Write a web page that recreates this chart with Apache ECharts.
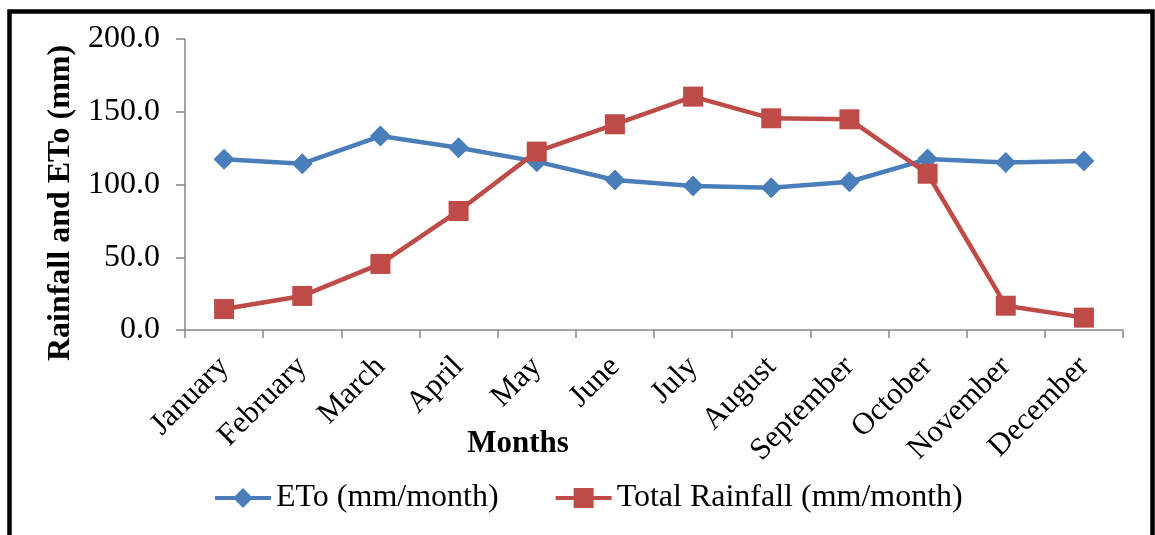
<!DOCTYPE html>
<html>
<head>
<meta charset="utf-8">
<script src="https://cdn.jsdelivr.net/npm/echarts@6/dist/echarts.min.js"></script>
<style>
  html, body { margin: 0; padding: 0; background: #fff; }
  #chart { width: 1155px; height: 535px; }
</style>
</head>
<body>
<div id="chart"></div>
<script>
// Monthly climate data
const months = ['January', 'February', 'March', 'April', 'May', 'June',
  'July', 'August', 'September', 'October', 'November', 'December'];
const eto = [117.3, 114.3, 133.3, 125.3, 115.7, 103.1, 99.0, 97.8, 101.9, 117.5, 115.2, 116.2];
const rainfall = [14.4, 23.4, 45.4, 81.8, 122.6, 141.4, 160.4, 145.5, 144.8, 107.4, 16.7, 8.5];
const yTicks = { min: 0, max: 200, step: 50 };

const serif = '"Liberation Serif", "Times New Roman", serif';
const axisGray = '#868686';

const chart = echarts.init(document.getElementById('chart'), null, { renderer: 'canvas' });

chart.setOption({
  animation: false,
  backgroundColor: '#fff',
  textStyle: { fontFamily: serif, color: '#000' },
  grid: { left: 185, right: 32, top: 39, bottom: 205, containLabel: false },
  legend: {
    left: 208,
    top: 477,
    itemWidth: 56,
    itemHeight: 25,
    itemGap: 55,
    lineStyle: { width: 4 },
    textStyle: { fontFamily: serif, fontSize: 32, color: '#000' },
    data: ['ETo (mm/month)', 'Total Rainfall (mm/month)']
  },
  xAxis: {
    type: 'category',
    data: months,
    boundaryGap: true,
    axisLine: { lineStyle: { color: axisGray, width: 1.5 } },
    axisTick: { show: true, length: 8, lineStyle: { color: axisGray, width: 1.5 } },
    axisLabel: {
      rotate: 45,
      interval: 0,
      margin: 32,
      fontFamily: serif,
      fontSize: 31,
      color: '#000'
    },
    splitLine: { show: false }
  },
  yAxis: {
    type: 'value',
    min: yTicks.min,
    max: yTicks.max,
    interval: yTicks.step,
    axisLine: { show: true, lineStyle: { color: axisGray, width: 1.5 } },
    axisTick: { show: true, length: 9, lineStyle: { color: axisGray, width: 1.5 } },
    axisLabel: {
      margin: 25,
      fontFamily: serif,
      fontSize: 32,
      color: '#000',
      formatter: v => v.toFixed(1)
    },
    splitLine: { show: false }
  },
  graphic: [
    {
      type: 'rect',
      silent: true,
      shape: { x: 9.5, y: 11.5, width: 1143, height: 600 },
      style: { fill: 'none', stroke: '#000', lineWidth: 4.5 }
    },
    {
      type: 'text',
      silent: true,
      x: 61,
      y: 203,
      rotation: Math.PI / 2,
      style: {
        text: 'Rainfall and ETo (mm)',
        fontFamily: serif,
        fontWeight: 'bold',
        fontSize: 32,
        fill: '#000',
        align: 'center',
        verticalAlign: 'middle'
      }
    },
    {
      type: 'text',
      silent: true,
      x: 518,
      y: 444,
      style: {
        text: 'Months',
        fontFamily: serif,
        fontWeight: 'bold',
        fontSize: 31,
        fill: '#000',
        align: 'center',
        verticalAlign: 'middle'
      }
    }
  ],
  series: [
    {
      name: 'ETo (mm/month)',
      type: 'line',
      data: eto,
      symbol: 'diamond',
      symbolSize: 21,
      itemStyle: { color: '#4a7ebb' },
      lineStyle: { color: '#4a7ebb', width: 4.5 },
      z: 2
    },
    {
      name: 'Total Rainfall (mm/month)',
      type: 'line',
      data: rainfall,
      symbol: 'rect',
      symbolSize: 20,
      itemStyle: { color: '#be4b48' },
      lineStyle: { color: '#be4b48', width: 4.5 },
      z: 3
    }
  ]
});
</script>
</body>
</html>
